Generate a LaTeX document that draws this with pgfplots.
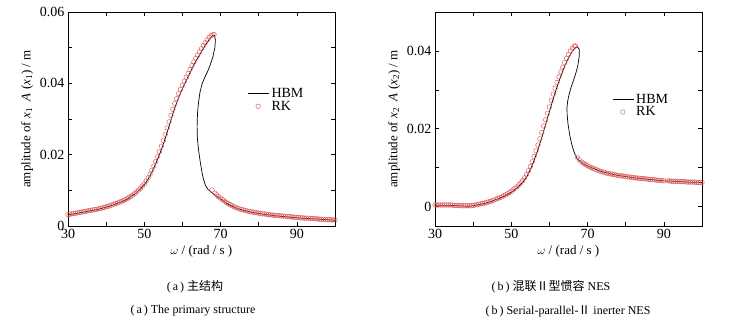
\documentclass[border=0pt]{standalone}
\usepackage{fontspec}
\setmainfont{Liberation Serif}
\newfontfamily\cjk{Noto Sans CJK SC}
\usepackage{pgfplots}
\pgfplotsset{compat=1.18}
\definecolor{rkred}{RGB}{225,85,85}
\begin{document}
\begin{tikzpicture}
\useasboundingbox (0,0) rectangle (733pt,322pt);
\pgfplotsset{
  myax/.style={
    scale only axis, width=267pt, height=214pt, anchor=south west,
    xmin=30, xmax=100,
    xtick={30,40,50,60,70,80,90,100},
    xticklabels={30,,50,,70,,90,},
    scaled y ticks=false,
    tick align=inside, major tick length=4pt,
    xtick pos=both, ytick pos=both,
    tick style={black, line width=0.5pt},
    axis line style={line width=0.6pt},
    ticklabel style={font=\fontsize{14}{15}\selectfont},
    label style={font=\fontsize{13}{14}\selectfont},
    xlabel={$\omega$ / (rad / s )},
    clip=false,
    legend cell align=left,
    legend style={draw=none, fill=none, font=\fontsize{14}{15}\selectfont, row sep=-2pt},
    legend image code/.code={\draw[#1] (0pt,0pt) -- (21pt,0pt);},
  },
  hbm/.style={black, line width=0.7pt, mark=none},
  rk/.style={only marks, mark=o, mark size=2.3pt, rkred, mark options={line width=0.45pt},
     legend image code/.code={\draw[#1] plot coordinates {(10pt,0pt)};}},
}
\begin{axis}[myax, at={(68pt,96pt)},
  ymin=0, ymax=0.06,
  ytick={0,0.01,0.02,0.03,0.04,0.05,0.06},
  yticklabels={0,,0.02,,0.04,,0.06},
  ylabel={amplitude of \textit{x}\textsubscript{1}\ \ \textit{A} (\textit{x}\textsubscript{1}) / m},
  legend style={at={(axis cs:76.3,0.0398)}, anchor=north west},
]
\addplot[hbm] coordinates {
(30,0.0031)(31,0.0033)(32,0.0035)(33,0.0037)(34,0.0039)(35,0.0041)(36,0.0043)(37,0.0045)(38,0.0047)(39,0.0050)
(40,0.0053)(41,0.0056)(42,0.0060)(43,0.0064)(44,0.0068)(45,0.0073)(46,0.0079)(47,0.0086)(48,0.0094)(49,0.0104)
(50,0.0116)(50.5,0.0123)(51,0.0132)(51.5,0.0141)(52,0.0152)(52.5,0.0163)(53,0.0175)(53.5,0.0188)(54,0.0201)(54.5,0.0215)
(55,0.0230)(55.5,0.0246)(56,0.0263)(56.5,0.0280)(57,0.0298)(57.5,0.0315)(58,0.0331)(58.5,0.0346)(59,0.0360)(59.5,0.0373)
(60,0.0385)(60.5,0.0397)(61,0.0408)(61.5,0.0419)(62,0.0430)(62.5,0.0441)(63,0.0452)(63.5,0.0462)(64,0.0471)(64.5,0.0480)
(65,0.0489)(65.5,0.0498)(66,0.0507)(66.5,0.0515)(67,0.0522)(67.5,0.0529)(68,0.0535)(68.4,0.0534)(68.65,0.0522)(68.5,0.0500)
(68.0,0.0475)(67.3,0.0452)(66.6,0.0433)(65.9,0.0418)(65.2,0.0400)(64.6,0.0375)(64.2,0.0345)(63.95,0.0315)(63.85,0.0280)(63.9,0.0250)
(64.1,0.0225)(64.4,0.0200)(64.7,0.0178)(65.1,0.0152)(65.5,0.0132)(66.0,0.0115)(66.6,0.0104)(67.3,0.0097)(68,0.0091)(69,0.0083)
(70,0.0076)(71,0.0068)(72,0.0061)(73,0.0056)(74,0.0051)(75,0.0047)(76,0.0044)(78,0.0039)(80,0.0035)(82,0.0032)
(84,0.0029)(86,0.0027)(88,0.0025)(90,0.0023)(93,0.0021)(96,0.0019)(100,0.0016)
};
\addlegendentry{HBM}
\addplot[rk] coordinates {
(30,0.0032)(30.5,0.0033)(31,0.0034)(31.5,0.0035)(32,0.0036)(32.5,0.0037)(33,0.0038)(33.5,0.0039)(34,0.0040)(34.5,0.0041)
(35,0.0042)(35.5,0.0043)(36,0.0044)(36.5,0.0045)(37,0.0046)(37.5,0.0047)(38,0.0048)(38.5,0.0049)(39,0.0051)(39.5,0.0052)
(40,0.0054)(40.5,0.0055)(41,0.0057)(41.5,0.0059)(42,0.0061)(42.5,0.0063)(43,0.0065)(43.5,0.0067)(44,0.0069)(44.5,0.0071)
(45,0.0074)(45.5,0.0077)(46,0.0080)(46.5,0.0083)(47,0.0087)(47.5,0.0091)(48,0.0096)(48.5,0.0101)(49,0.0106)(49.5,0.0112)
(50,0.0118)(50.5,0.0126)(51,0.0135)(51.5,0.0145)(52,0.0156)(52.5,0.0168)(53,0.0181)(53.5,0.0195)(54,0.0209)(54.5,0.0224)
(55,0.0240)(55.5,0.0257)(56,0.0275)(56.5,0.0292)(57,0.0310)(57.5,0.0327)(58,0.0343)(58.5,0.0357)(59,0.0371)(59.5,0.0383)
(60,0.0395)(60.5,0.0406)(61,0.0417)(61.5,0.0428)(62,0.0439)(62.5,0.0450)(63,0.0460)(63.5,0.0470)(64,0.0479)(64.5,0.0488)
(65,0.0497)(65.5,0.0506)(66,0.0514)(66.5,0.0522)(67,0.0529)(67.5,0.0534)(68,0.0536)(68.3,0.0537)
(67.8,0.0101)(68.5,0.0092)(69,0.0087)(69.5,0.0082)(70,0.0078)(70.5,0.0074)(71,0.0070)(71.5,0.0066)(72,0.0063)(72.5,0.0060)
(73,0.0057)(73.5,0.0054)(74,0.0052)(74.5,0.0050)(75,0.0048)(75.5,0.0046)(76,0.0045)(76.5,0.0043)(77,0.0042)(77.5,0.0041)
(78,0.0040)(78.5,0.0039)(79,0.0038)(79.5,0.0037)(80,0.0036)(80.5,0.0035)(81,0.0034)(81.5,0.0034)(82,0.0033)(82.5,0.0032)
(83,0.0031)(83.5,0.0031)(84,0.0030)(84.5,0.0030)(85,0.0029)(85.5,0.0029)(86,0.0028)(86.5,0.0028)(87,0.0027)(87.5,0.0027)
(88,0.0026)(88.5,0.0026)(89,0.0025)(89.5,0.0025)(90,0.0024)(90.5,0.0024)(91,0.0023)(91.5,0.0023)(92,0.0022)(92.5,0.0022)
(93,0.0022)(93.5,0.0021)(94,0.0021)(94.5,0.0021)(95,0.0020)(95.5,0.0020)(96,0.0019)(96.5,0.0019)(97,0.0019)(97.5,0.0018)
(98,0.0018)(98.5,0.0018)(99,0.0017)(99.5,0.0017)(100,0.0017)
};
\addlegendentry{RK}
\end{axis}
\begin{axis}[myax, at={(435pt,96pt)},
  ymin=-0.005, ymax=0.05,
  ytick={0,0.01,0.02,0.03,0.04},
  yticklabels={0,,0.02,,0.04},
  ylabel={amplitude of \textit{x}\textsubscript{2}\ \ \textit{A} (\textit{x}\textsubscript{2}) / m},
  legend style={at={(axis cs:75.7,0.0300)}, anchor=north west},
]
\addplot[hbm] coordinates {
(30,0.0003)(32,0.0003)(34,0.0003)(36,0.0002)(38,0.0001)(39,0.0001)(40,0.0002)(41,0.0004)(42,0.0006)(43,0.0008)
(44,0.0011)(45,0.0014)(46,0.0018)(47,0.0022)(48,0.0026)(49,0.0031)(50,0.0037)(51,0.0044)(52,0.0052)(53,0.0062)
(54,0.0076)(55,0.0095)(56,0.0119)(57,0.0147)(58,0.0178)(59,0.0211)(60,0.0244)(61,0.0277)(62,0.0308)(63,0.0336)
(64,0.0361)(65,0.0382)(66,0.0399)(66.8,0.0408)(67.4,0.0410)(67.85,0.0403)(67.8,0.0385)(67.4,0.0360)(66.9,0.0342)(66.3,0.0324)
(65.7,0.0307)(65.2,0.0290)(64.8,0.0272)(64.6,0.0255)(64.65,0.0235)(64.9,0.0210)(65.3,0.0185)(65.8,0.0162)(66.3,0.0145)(66.8,0.0132)
(67.3,0.0123)(68,0.0116)(69,0.0110)(70,0.0105)(71,0.0100)(72,0.0096)(73,0.0092)(74,0.0089)(76,0.0084)(78,0.0080)
(80,0.0077)(82,0.0074)(84,0.0072)(86,0.0070)(88,0.0068)(90,0.0066)(93,0.0065)(96,0.0063)(100,0.0062)
};
\addlegendentry{HBM}
\addplot[rk] coordinates {
(30,0.0004)(30.5,0.0004)(31,0.0004)(31.5,0.0004)(32,0.0004)(32.5,0.0004)(33,0.0004)(33.5,0.0004)(34,0.0004)(34.5,0.0004)
(35,0.0003)(35.5,0.0003)(36,0.0003)(36.5,0.0003)(37,0.0002)(37.5,0.0002)(38,0.0002)(38.5,0.0002)(39,0.0002)(39.5,0.0002)
(40,0.0003)(40.5,0.0004)(41,0.0005)(41.5,0.0006)(42,0.0007)(42.5,0.0008)(43,0.0009)(43.5,0.0010)(44,0.0012)(44.5,0.0013)
(45,0.0015)(45.5,0.0017)(46,0.0019)(46.5,0.0021)(47,0.0023)(47.5,0.0025)(48,0.0028)(48.5,0.0030)(49,0.0033)(49.5,0.0036)
(50,0.0039)(50.5,0.0043)(51,0.0047)(51.5,0.0051)(52,0.0056)(52.5,0.0061)(53,0.0067)(53.5,0.0074)(54,0.0082)(54.5,0.0092)
(55,0.0103)(55.5,0.0115)(56,0.0129)(56.5,0.0143)(57,0.0158)(57.5,0.0174)(58,0.0190)(58.5,0.0207)(59,0.0223)(59.5,0.0240)
(60,0.0256)(60.5,0.0273)(61,0.0289)(61.5,0.0304)(62,0.0319)(62.5,0.0333)(63,0.0346)(63.5,0.0358)(64,0.0370)(64.5,0.0381)
(65,0.0391)(65.5,0.0400)(66,0.0407)(66.5,0.0412)(66.8,0.0413)
(67.3,0.0127)(67.8,0.0120)(68.5,0.0114)(69,0.0111)(69.5,0.0108)(70,0.0105)(70.5,0.0102)(71,0.0100)(71.5,0.0098)(72,0.0096)
(72.5,0.0094)(73,0.0092)(73.5,0.0090)(74,0.0089)(74.5,0.0087)(75,0.0086)(75.5,0.0085)(76,0.0084)(76.5,0.0083)(77,0.0082)
(77.5,0.0081)(78,0.0080)(78.5,0.0079)(79,0.0079)(79.5,0.0078)(80,0.0077)(80.5,0.0076)(81,0.0076)(81.5,0.0075)(82,0.0074)
(82.5,0.0074)(83,0.0073)(83.5,0.0073)(84,0.0072)(84.5,0.0072)(85,0.0071)(85.5,0.0071)(86,0.0070)(86.5,0.0070)(87,0.0069)
(87.5,0.0069)(88,0.0068)(88.5,0.0068)(89,0.0067)(89.5,0.0067)(90,0.0066)(91,0.0066)(91.5,0.0066)(92,0.0065)(92.5,0.0065)
(93,0.0065)(93.5,0.0065)(94,0.0064)(94.5,0.0064)(95,0.0064)(95.5,0.0064)(96,0.0063)(96.5,0.0063)(97,0.0063)(97.5,0.0063)
(98,0.0063)(98.5,0.0062)(99,0.0062)(99.5,0.0062)(100,0.0062)
};
\addlegendentry{RK}
\end{axis}
\node[font=\fontsize{12}{13}\selectfont] at (195pt,35pt) {(\,a\,)\ {\cjk 主结构}};
\node[font=\fontsize{12}{13}\selectfont] at (193pt,11pt) {(\,a\,)\ The primary structure};
\node[font=\fontsize{12}{13}\selectfont] at (551pt,35pt) {(\,b\,)\ {\cjk 混联Ⅱ型惯容} NES};
\node[font=\fontsize{12}{13}\selectfont] at (568pt,11pt) {(\,b\,)\ Serial-parallel-{\cjk Ⅱ}\ inerter NES};
\end{tikzpicture}
\end{document}
